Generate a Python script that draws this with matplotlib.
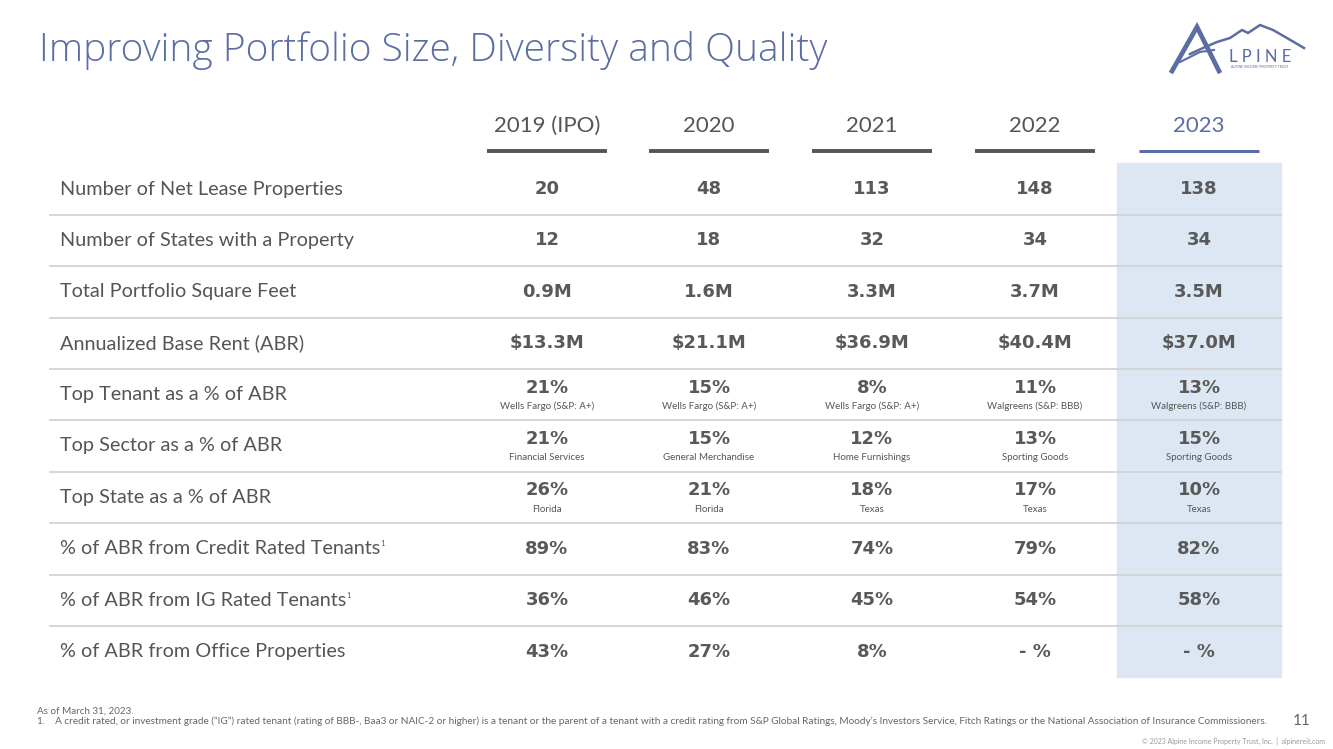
import matplotlib
matplotlib.use('Agg')
import matplotlib.pyplot as plt
from matplotlib.patches import Rectangle

plt.rcParams['font.family'] = ['Lato', 'DejaVu Sans']

# table data
years = ['2019 (IPO)', '2020', '2021', '2022', '2023']
row_labels = ['Number of Net Lease Properties',
              'Number of States with a Property',
              'Total Portfolio Square Feet',
              'Annualized Base Rent (ABR)',
              'Top Tenant as a % of ABR',
              'Top Sector as a % of ABR',
              'Top State as a % of ABR',
              '% of ABR from Credit Rated Tenants',
              '% of ABR from IG Rated Tenants',
              '% of ABR from Office Properties']
footnoted = [7, 8]
properties = ['20', '48', '113', '148', '138']
states = ['12', '18', '32', '34', '34']
sq_ft = ['0.9M', '1.6M', '3.3M', '3.7M', '3.5M']
abr = ['$13.3M', '$21.1M', '$36.9M', '$40.4M', '$37.0M']
top_tenant = ['21%', '15%', '8%', '11%', '13%']
top_tenant_name = ['Wells Fargo (S&P: A+)', 'Wells Fargo (S&P: A+)', 'Wells Fargo (S&P: A+)',
                   'Walgreens (S&P: BBB)', 'Walgreens (S&P: BBB)']
top_sector = ['21%', '15%', '12%', '13%', '15%']
top_sector_name = ['Financial Services', 'General Merchandise', 'Home Furnishings',
                   'Sporting Goods', 'Sporting Goods']
top_state = ['26%', '21%', '18%', '17%', '10%']
top_state_name = ['Florida', 'Florida', 'Texas', 'Texas', 'Texas']
credit_rated = ['89%', '83%', '74%', '79%', '82%']
ig_rated = ['36%', '46%', '45%', '54%', '58%']
office = ['43%', '27%', '8%', '- %', '- %']

rows = [properties, states, sq_ft, abr, top_tenant, top_sector, top_state,
        credit_rated, ig_rated, office]
subs = {4: top_tenant_name, 5: top_sector_name, 6: top_state_name}

blue = '#5a6ea3'
grey = '#555555'
val_c = '#595959'
light = '#dce7f3'
val_font = ['DejaVu Sans']

fig = plt.figure(figsize=(13.33, 7.49), dpi=100)
ax = fig.add_axes([0, 0, 1, 1])
ax.set_xlim(0, 1333)
ax.set_ylim(749, 0)
ax.axis('off')

col_x = [547, 709, 872, 1035, 1199]
row_y0, row_h = 189, 51.4

# highlight 2023 column
ax.add_patch(Rectangle((1117, 163), 164, 514, color=light, zorder=0))

# title
ax.text(39, 50, 'Improving Portfolio Size, Diversity and Quality', fontsize=28,
        color=blue, family=['Open Sans', 'DejaVu Sans'], fontweight='light',
        va='center', ha='left')

# headers
for i, yr in enumerate(years):
    c = blue if i == 4 else grey
    ax.text(col_x[i], 126, yr, fontsize=16, color=c,
            ha='center', va='center')
    ax.plot([col_x[i] - 60, col_x[i] + 60], [151, 151], color=c,
            lw=2.2 if i == 4 else 2.8, solid_capstyle='butt')

# rows
for r, lab in enumerate(row_labels):
    y = row_y0 + r * row_h
    t = ax.text(60, y, lab, fontsize=14.3, color=grey, ha='left', va='center')
    if r in footnoted:
        ax.annotate('1', xy=(1, 1), xycoords=t, xytext=(0.3, 0),
                    textcoords='offset points', fontsize=5.5, color=grey,
                    ha='left', va='top')
    for i, v in enumerate(rows[r]):
        if r in subs:
            ax.text(col_x[i], y - 7, v, fontsize=13, color=val_c, family=val_font,
                    fontweight='bold', ha='center', va='center')
            ax.text(col_x[i], y + 12, subs[r][i], fontsize=7, color=grey,
                    ha='center', va='center')
        else:
            ax.text(col_x[i], y, v, fontsize=13, color=val_c, family=val_font,
                    fontweight='bold', ha='center', va='center')
    if r < len(row_labels) - 1:
        ax.plot([50, 1281], [y + row_h / 2, y + row_h / 2], color='#d3d3d3', lw=1.3)

# footnotes
ax.text(37, 711, 'As of March 31, 2023.', fontsize=7.1, color='#666666', va='center')
ax.text(37, 721, '1.    A credit rated, or investment grade (\u201cIG\u201d) rated tenant (rating of BBB-, '
        'Baa3 or NAIC-2 or higher) is a tenant or the parent of a tenant with a credit rating from '
        'S&P Global Ratings, Moody\u2019s Investors Service, Fitch Ratings or the National Association '
        'of Insurance Commissioners.', fontsize=7.2, color='#666666', va='center')
ax.text(1311, 721, '11', fontsize=11, color='#666666', ha='right', va='center')
ax.text(1325, 741, '\u00a9 2023 Alpine Income Property Trust, Inc.  |  alpinereit.com',
        fontsize=5.0, color='#999999', ha='right', va='center')

# logo
ax.plot([1172, 1197, 1219], [71, 27, 71], color=blue, lw=3.4, solid_joinstyle='miter')
ax.plot([1180, 1200, 1214], [62, 52, 50], color=blue, lw=1.5)
ax.plot([1190, 1203, 1217, 1230, 1242, 1248, 1260, 1273, 1287, 1304],
        [54, 48, 42, 38, 30, 33, 25, 30, 38, 48], color=blue, lw=1.8)
ax.text(1260, 57, 'L P I N E', fontsize=12, color=blue, ha='center', va='center')
ax.text(1260, 67, 'ALPINE INCOME PROPERTY TRUST', fontsize=2.5, color=blue,
        ha='center', va='center')

fig.savefig('out.png', dpi=100)
